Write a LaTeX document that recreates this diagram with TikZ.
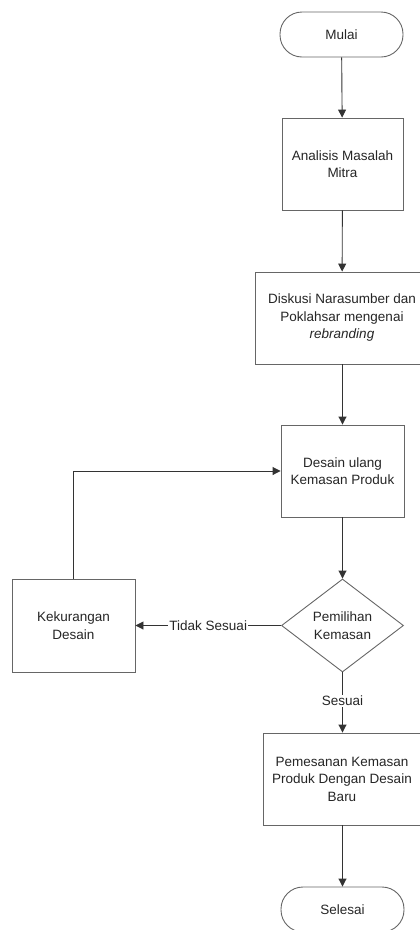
\documentclass[tikz,border=0pt]{standalone}
\usepackage{fontspec}
\setmainfont{Liberation Sans}
\usetikzlibrary{shapes.geometric,arrows.meta}
\begin{document}
\begin{tikzpicture}[x=1pt,y=-1pt,
  every node/.style={font=\fontsize{13.5}{17.5}\selectfont, text=black!85, align=center, inner sep=0pt},
  proc/.style={draw=black!60, line width=0.9pt, rectangle, fill=white},
  term/.style={draw=black!60, line width=0.9pt, rectangle, rounded corners=22pt, minimum width=123pt, minimum height=45pt},
  decis/.style={draw=black!60, line width=0.9pt, diamond, minimum width=122pt, minimum height=93pt},
  arr/.style={draw=black!80, line width=0.9pt, -{Triangle[length=8pt,width=8pt]}},
  lbl/.style={fill=white, inner sep=1pt}]
\useasboundingbox (0,0) rectangle (420,930);
\node[term] (mulai) at (341.5,34.5) {Mulai};
\node[proc, minimum width=121pt, minimum height=92pt] (analisis) at (342.5,164) {Analisis Masalah\\Mitra};
\node[proc, minimum width=174pt, minimum height=92pt] (diskusi) at (342,318) {Diskusi Narasumber dan\\Poklahsar mengenai\\\textit{rebranding}};
\node[proc, minimum width=123pt, minimum height=92pt] (desain) at (342.5,471) {Desain ulang\\Kemasan Produk};
\node[decis] (pilih) at (342.5,625.5) {Pemilihan\\Kemasan};
\node[proc, minimum width=123pt, minimum height=93pt] (kek) at (73.5,625.5) {Kekurangan\\Desain};
\node[proc, minimum width=158pt, minimum height=92pt] (pesan) at (342,779) {Pemesanan Kemasan\\Produk Dengan Desain\\Baru};
\node[term] (selesai) at (342.5,909.5) {Selesai};

\draw[arr] (mulai) -- (analisis);
\draw[arr] (analisis) -- (diskusi);
\draw[arr] (diskusi.south -| desain.north) -- (desain);
\draw[arr] (desain) -- (pilih);
\draw[arr] (pilih) -- node[lbl] {Tidak Sesuai} (kek);
\draw[arr] (kek.north) |- (desain.west);
\draw[arr] (pilih) -- node[lbl, pos=0.47] {Sesuai} (pesan.north -| pilih.south);
\draw[arr] (pesan.south -| selesai.north) -- (selesai);
\end{tikzpicture}
\end{document}
